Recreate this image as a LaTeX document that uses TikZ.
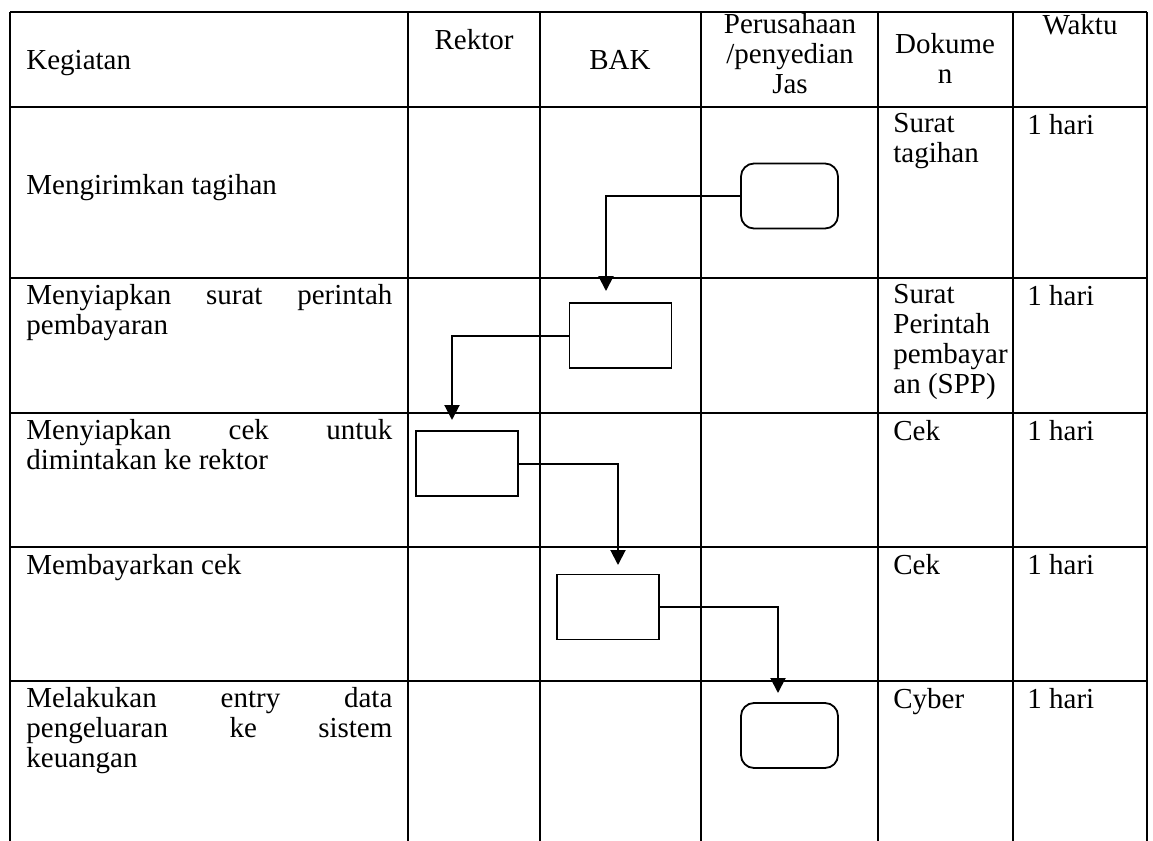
\documentclass[tikz,border=0pt]{standalone}
\usepackage{fontspec}
\setmainfont{Liberation Serif}
\usetikzlibrary{arrows.meta}
\newcommand{\jline}[1]{\makebox[183pt][s]{#1}}

\begin{document}
\begin{tikzpicture}[x=0.5pt,y=-0.5pt]
\tikzset{every node/.style={inner sep=0pt,font=\fontsize{14.5}{15}\selectfont}}
\tikzset{execute at begin node=\strut}
\tikzset{grid line/.style={line width=1.2pt}}
\tikzset{proc/.style={draw,line width=0.9pt,minimum width=51pt,minimum height=32.5pt}}
\tikzset{ends/.style={proc,rounded corners=6.5pt,minimum width=48.5pt}}
\tikzset{flow/.style={line width=1pt,-{Triangle[length=7.5pt,width=7.5pt]}}}
\useasboundingbox (0,0) rectangle (1153,841);
% tabel
\foreach \x in {10,408,540,701,878,1013,1147}
  \draw[grid line] (\x,12) -- (\x,841);
\foreach \y in {12,107,278,413,547,681}
  \draw[grid line] (10,\y) -- (1147,\y);
% kepala tabel
\node[anchor=north west] (kegiatan) at (26,48) {Kegiatan};
\node[anchor=north] (rektor) at (474,28) {Rektor};
\node[anchor=north] (bak) at (620,48) {BAK};
\node[anchor=north,align=center] (perusahaan) at (790,13) {Perusahaan\\/penyedian\\Jas};
\node[anchor=north,align=center] (dokumen) at (945,33) {Dokume\\n};
\node[anchor=north] (waktu) at (1080,13) {Waktu};
% kegiatan
\node[anchor=north west] (keg1) at (26,173) {Mengirimkan tagihan};
\node[anchor=north west,align=left] (keg2) at (26,284) {\jline{Menyiapkan surat perintah}\\pembayaran};
\node[anchor=north west,align=left] (keg3) at (26,419) {\jline{Menyiapkan cek untuk}\\dimintakan ke rektor};
\node[anchor=north west] (keg4) at (26,553) {Membayarkan cek};
\node[anchor=north west,align=left] (keg5) at (26,687) {\jline{Melakukan entry data}\\\jline{pengeluaran ke sistem}\\keuangan};
% dokumen
\node[anchor=north west,align=left] (dok1) at (893,113) {Surat\\tagihan};
\node[anchor=north west,align=left] (dok2) at (893,284) {Surat\\Perintah\\pembayar\\an (SPP)};
\node[anchor=north west] (dok3) at (893,419) {Cek};
\node[anchor=north west] (dok4) at (893,553) {Cek};
\node[anchor=north west] (dok5) at (893,687) {Cyber};
% waktu
\foreach \y/\n in {113/1,284/2,419/3,553/4,687/5}
  \node[anchor=north west] (wkt\n) at (1027,\y) {1 hari};
% alur
\node[ends] (mulai) at (789.5,196) {};
\node[proc] (spp) at (620.5,335.5) {};
\node[proc] (cek) at (467,463.5) {};
\node[proc] (bayar) at (608,607) {};
\node[ends] (entry) at (789.5,735.5) {};
\coordinate (in2) at (606,291);
\coordinate (in3) at (452,420);
\coordinate (in4) at (618,565);
\coordinate (in5) at (778,693);
\draw[flow] (mulai.west) -| (in2);
\draw[flow] (spp.west) -| (in3);
\draw[flow] (cek.east) -| (in4);
\draw[flow] (bayar.east) -| (in5);
\end{tikzpicture}
\end{document}
